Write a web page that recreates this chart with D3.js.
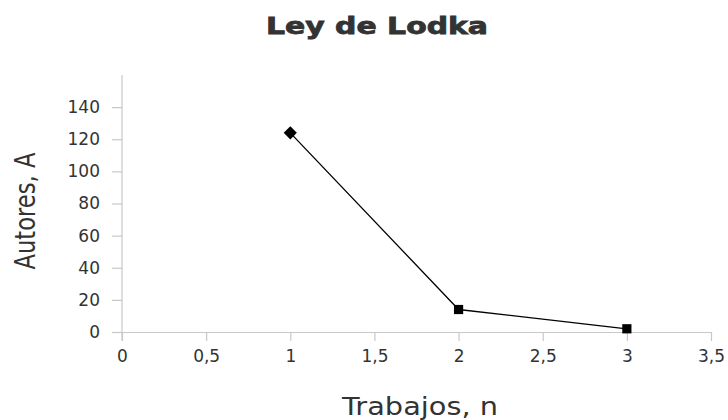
<!DOCTYPE html>
<html>
<head>
<meta charset="utf-8">
<script src="https://cdn.jsdelivr.net/npm/d3@7"></script>
<style>
  body { margin: 0; background: #fff; }
  svg { display: block; }
</style>
</head>
<body>
<svg id="chart" width="728" height="420"></svg>
<script>
//  data
const trabajos = [1, 2, 3];
const autores = [124, 14, 2];
const markers = ["diamond", "square", "square"];
const x_ticks = [0, 0.5, 1, 1.5, 2, 2.5, 3, 3.5];
const y_ticks = [0, 20, 40, 60, 80, 100, 120, 140];

//  draw chart
function draw_chart() {
  const margin = ({top: 75, right: 17, bottom: 88, left: 122});
  const w = 728, h = 420;
  const svg = d3.select("#chart");

  const x = d3.scaleLinear().domain([0, 3.5]).range([margin.left, w - margin.right]);
  const y = d3.scaleLinear().domain([0, 160]).range([h - margin.bottom, margin.top]);

  const fmt = d => String(d).replace(".", ",");

  //  x axis
  const gx = svg.append("g")
    .attr("transform", `translate(0,${y(0)})`)
    .call(d3.axisBottom(x).tickValues(x_ticks).tickFormat(fmt).tickSize(9).tickPadding(9).tickSizeOuter(0));

  //  y axis
  const gy = svg.append("g")
    .attr("transform", `translate(${x(0)},0)`)
    .call(d3.axisLeft(y).tickValues(y_ticks).tickSize(10).tickPadding(12).tickSizeOuter(0));

  // vertical axis line extends below zero like the original
  gy.select(".domain").attr("d", `M0,${y(160)}V${y(0) + 9}`);

  [gx, gy].forEach(g => {
    g.attr("font-size", 17).attr("font-family", "'DejaVu Sans', sans-serif");
    g.selectAll("line, path").attr("stroke", "#c8c8c8").attr("stroke-width", 1.2);
    g.selectAll("text").attr("fill", "#333");
  });

  //  line
  const line = d3.line().x((d, i) => x(trabajos[i])).y(d => y(d));
  svg.append("path")
    .datum(autores)
    .attr("d", line)
    .attr("fill", "none")
    .attr("stroke", "#000")
    .attr("stroke-width", 1.3);

  //  markers
  svg.selectAll(".marker")
    .data(autores)
    .enter()
    .append("path")
    .attr("class", "marker")
    .attr("d", (d, i) => markers[i] == "diamond"
      ? d3.symbol().type(d3.symbolDiamond2).size(110)()
      : d3.symbol().type(d3.symbolSquare).size(85)())
    .attr("transform", (d, i) => `translate(${x(trabajos[i])},${y(d)})`)
    .attr("fill", "#000");

  //  title
  svg.append("text")
    .attr("x", 377)
    .attr("y", 34)
    .attr("text-anchor", "middle")
    .attr("fill", "#333")
    .attr("stroke", "#333")
    .attr("stroke-width", 0.8)
    .attr("textLength", 222)
    .attr("lengthAdjust", "spacingAndGlyphs")
    .style("font-family", "'DejaVu Sans', sans-serif")
    .style("font-weight", "bold")
    .style("font-size", "23px")
    .text("Ley de Lodka");

  //  axis titles
  svg.append("text")
    .attr("x", 420)
    .attr("y", 415)
    .attr("text-anchor", "middle")
    .attr("fill", "#333")
    .attr("textLength", 156)
    .attr("lengthAdjust", "spacingAndGlyphs")
    .style("font-family", "'DejaVu Sans', sans-serif")
    .style("font-size", "24px")
    .text("Trabajos, n");

  svg.append("text")
    .attr("transform", "translate(35,211) rotate(-90)")
    .attr("text-anchor", "middle")
    .attr("fill", "#333")
    .attr("textLength", 117)
    .attr("lengthAdjust", "spacingAndGlyphs")
    .style("font-family", "'DejaVu Sans Condensed', 'Liberation Sans Narrow', sans-serif")
    .style("font-size", "28px")
    .text("Autores, A");
}

draw_chart();
</script>
</body>
</html>
